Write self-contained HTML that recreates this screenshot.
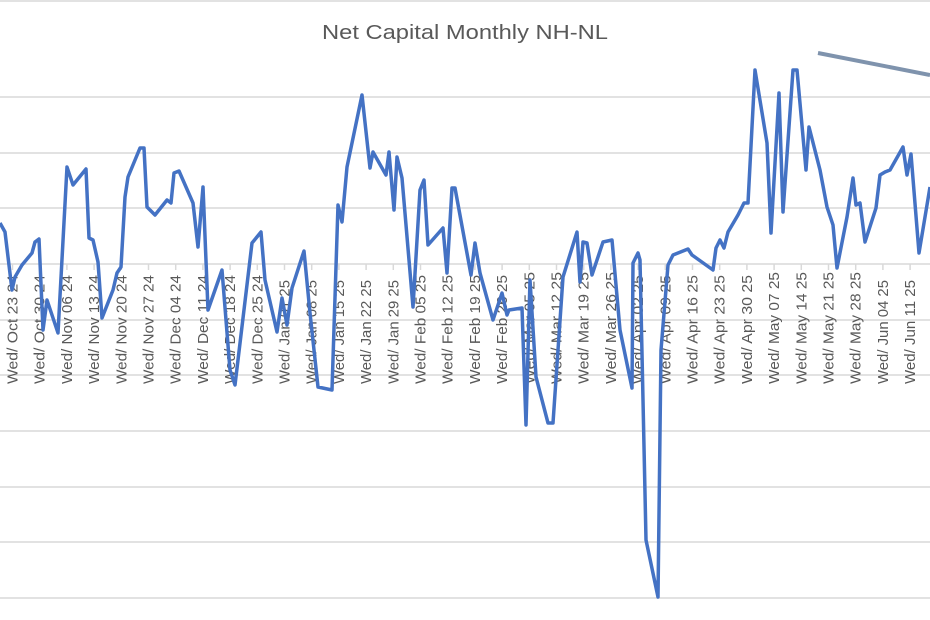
<!DOCTYPE html>
<html><head><meta charset="utf-8"><style>
html,body{margin:0;padding:0;background:#fff;}
svg{display:block;font-family:"Liberation Sans",sans-serif;}
</style></head><body>
<svg width="930" height="620" viewBox="0 0 930 620" xmlns="http://www.w3.org/2000/svg">
<rect width="930" height="620" fill="#fff"/>
<g stroke="#d9d9d9" stroke-width="1.5">
<line x1="0" y1="1" x2="930" y2="1"/>
<line x1="0" y1="97" x2="930" y2="97"/>
<line x1="0" y1="153" x2="930" y2="153"/>
<line x1="0" y1="208" x2="930" y2="208"/>
<line x1="0" y1="264" x2="930" y2="264"/>
<line x1="0" y1="320" x2="930" y2="320"/>
<line x1="0" y1="375" x2="930" y2="375"/>
<line x1="0" y1="431" x2="930" y2="431"/>
<line x1="0" y1="487" x2="930" y2="487"/>
<line x1="0" y1="542" x2="930" y2="542"/>
<line x1="0" y1="598" x2="930" y2="598"/>
</g>
<text x="322" y="39" font-size="20" fill="#595959" textLength="286" lengthAdjust="spacingAndGlyphs">Net Capital Monthly NH-NL</text>
<g id="labels" font-size="14.5" fill="#595959"></g>
<g id="ticks" stroke="#d9d9d9" stroke-width="1.5"></g>
<line x1="818" y1="53" x2="930" y2="75" stroke="#7f93ad" stroke-width="4"/>
<polyline fill="none" stroke="#4472C4" stroke-width="3.5" stroke-linejoin="round" points="0,223 5,232 12,290 15,277 22,265 32,253 35,242 39,239 43,330 47,300 58,333 67,167 73,185 86,169 89,238 93,240 98,262 102,318 113,290 117,273 121,267 125,197 128,177 140,148 144,148 147,207 155,215 167,200 171,203 174,173 179,171 193,203 198,247 203,187 208,310 222,270 230,370 235,385 252,243 261,232 265,280 277,332 282,298 287,325 292,288 304,251 310,313 318,387 332,390 338,205 342,222 347,167 362,95 370,168 373,152 386,175 389,152 394,210 397,157 402,178 413,307 420,190 424,180 428,245 443,228 447,273 452,188 455,188 471,275 475,243 480,273 493,320 502,293 507,315 509,310 522,308 526,425 530,280 536,377 548,423 553,423 563,277 577,232 580,282 583,242 587,243 592,275 603,242 612,240 620,330 632,388 633,263 638,253 640,260 646,540 658,597 661,350 668,265 673,255 688,249 692,255 713,270 716,248 720,240 724,248 728,232 738,215 744,203 748,203 755,70 767,143 771,233 779,93 783,212 793,70 797,70 806,170 809,127 820,170 827,207 833,225 837,268 847,217 853,178 856,205 860,203 865,242 876,208 880,175 885,172 890,170 903,147 907,175 911,154 919,253 930,187"/>
</svg>
<script>
(function(){
var names=["Oct 23 24","Oct 30 24","Nov 06 24","Nov 13 24","Nov 20 24","Nov 27 24","Dec 04 24","Dec 11 24","Dec 18 24","Dec 25 24","Jan 01 25","Jan 08 25","Jan 15 25","Jan 22 25","Jan 29 25","Feb 05 25","Feb 12 25","Feb 19 25","Feb 26 25","Mar 05 25","Mar 12 25","Mar 19 25","Mar 26 25","Apr 02 25","Apr 09 25","Apr 16 25","Apr 23 25","Apr 30 25","May 07 25","May 14 25","May 21 25","May 28 25","Jun 04 25","Jun 11 25"];
var ns="http://www.w3.org/2000/svg";
var L=document.getElementById("labels"),T=document.getElementById("ticks");
names.forEach(function(n,k){
var x=12.5+27.2*k;
var t=document.createElementNS(ns,"text");
t.setAttribute("x",-110);t.setAttribute("y",0);
t.setAttribute("textLength",
 (n.indexOf("May")===0||n.indexOf("Mar")===0)?112:(n.indexOf("Jun")===0||n.indexOf("Jan")===0?104:109));
t.setAttribute("lengthAdjust","spacingAndGlyphs");
t.setAttribute("transform","translate("+(x+5)+",274) rotate(-90)");
t.textContent="Wed/ "+n;
L.appendChild(t);
var l=document.createElementNS(ns,"line");
l.setAttribute("x1",x);l.setAttribute("x2",x);l.setAttribute("y1",264);l.setAttribute("y2",270);
T.appendChild(l);
});
})();
</script>
</body></html>
